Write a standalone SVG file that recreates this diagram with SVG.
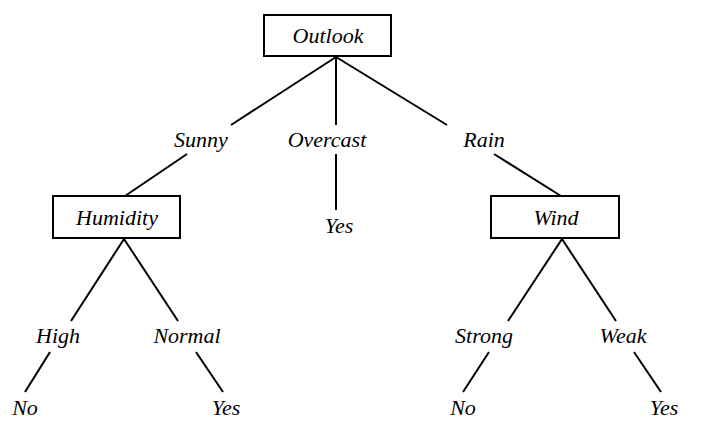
<svg xmlns="http://www.w3.org/2000/svg" width="711" height="432" viewBox="0 0 711 432">
<style>
text{font-family:"Liberation Serif","Times New Roman",serif;font-style:italic;font-size:22px;text-anchor:middle;fill:#000}
.box{fill:#fff;stroke:#000;stroke-width:2}
line{stroke:#000;stroke-width:2}
</style>
<rect width="711" height="432" fill="#fff"/>
<g id="connectors">
<line x1="336" y1="57" x2="231" y2="125"/>
<line x1="336" y1="57" x2="336" y2="125"/>
<line x1="336" y1="57" x2="447" y2="125"/>
<line x1="187" y1="154" x2="125" y2="196"/>
<line x1="336" y1="154" x2="336" y2="210"/>
<line x1="494" y1="154" x2="561" y2="196"/>
<line x1="124" y1="239" x2="71" y2="321"/>
<line x1="124" y1="239" x2="178" y2="321"/>
<line x1="50" y1="352" x2="25" y2="392"/>
<line x1="196" y1="352" x2="223" y2="392"/>
<line x1="562" y1="239" x2="508" y2="321"/>
<line x1="562" y1="239" x2="616" y2="321"/>
<line x1="489" y1="352" x2="463" y2="392"/>
<line x1="634" y1="352" x2="661" y2="392"/>
</g>
<g id="outlook"><rect class="box" x="264" y="15" width="127" height="41"/><text x="328" y="43">Outlook</text></g>
<g id="humidity"><rect class="box" x="53" y="196" width="127" height="42"/><text x="117" y="225">Humidity</text></g>
<g id="wind"><rect class="box" x="491" y="196" width="128" height="42"/><text x="556" y="225">Wind</text></g>
<g id="labels">
<text x="201" y="147">Sunny</text>
<text x="327" y="147">Overcast</text>
<text x="484" y="147">Rain</text>
<text x="339" y="233">Yes</text>
<text x="58" y="343">High</text>
<text x="187" y="343">Normal</text>
<text x="484" y="343">Strong</text>
<text x="623" y="343">Weak</text>
<text x="25" y="415">No</text>
<text x="226" y="415">Yes</text>
<text x="463" y="415">No</text>
<text x="664" y="415">Yes</text>
</g>
</svg>
